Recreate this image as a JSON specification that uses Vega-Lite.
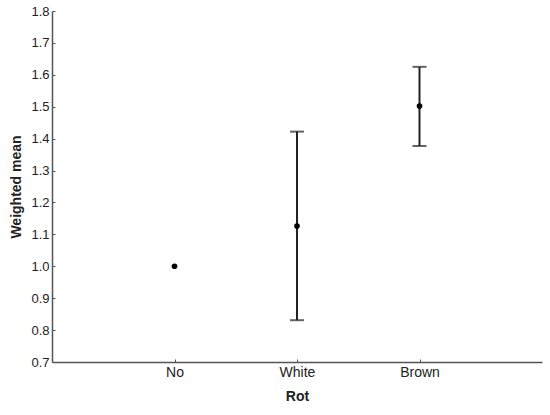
{
  "$schema": "https://vega.github.io/schema/vega-lite/v6.json",
  "width": 490,
  "height": 351,
  "autosize": {"type": "none"},
  "padding": {"left": 52, "top": 11, "right": 8, "bottom": 53},
  "background": "white",
  "config": {
    "view": {"stroke": null},
    "axis": {
      "grid": false,
      "domainColor": "#555555",
      "domainWidth": 1.5,
      "tickColor": "#555555",
      "tickSize": -3,
      "labelFont": "Liberation Sans",
      "labelFontSize": 13,
      "labelColor": "#222222",
      "titleFont": "Liberation Sans",
      "titleFontSize": 14,
      "titleFontWeight": "bold",
      "titleColor": "#222222"
    }
  },
  "data": {
    "values": [
      {"Rot": "No", "mean": 1.0, "lo": null, "hi": null},
      {"Rot": "White", "mean": 1.126, "lo": 0.831, "hi": 1.422},
      {"Rot": "Brown", "mean": 1.502, "lo": 1.377, "hi": 1.625}
    ]
  },
  "encoding": {
    "x": {
      "field": "Rot",
      "type": "nominal",
      "scale": {"type": "point", "domain": ["No", "White", "Brown"], "padding": 1},
      "axis": {"title": "Rot", "labelAngle": 0, "labelFontSize": 14, "labelPadding": 6, "titlePadding": 10}
    }
  },
  "layer": [
    {
      "mark": {"type": "rule", "color": "#222222", "strokeWidth": 2},
      "encoding": {
        "y": {"field": "lo", "type": "quantitative", "scale": {"domain": [0.7, 1.8], "nice": false, "zero": false}, "axis": {"title": "Weighted mean", "format": ".1f", "tickCount": 11, "labelOverlap": false, "labelFlush": false, "labelFontSize": 13, "labelPadding": 6, "titlePadding": 7}},
        "y2": {"field": "hi"}
      }
    },
    {
      "mark": {"type": "tick", "color": "#222222", "thickness": 2, "size": 14, "orient": "horizontal"},
      "encoding": {"y": {"field": "lo", "type": "quantitative"}}
    },
    {
      "mark": {"type": "tick", "color": "#222222", "thickness": 2, "size": 14, "orient": "horizontal"},
      "encoding": {"y": {"field": "hi", "type": "quantitative"}}
    },
    {
      "mark": {"type": "point", "filled": true, "color": "#000000", "opacity": 1, "size": 32},
      "encoding": {
        "y": {"field": "mean", "type": "quantitative"}
      }
    }
  ]
}
